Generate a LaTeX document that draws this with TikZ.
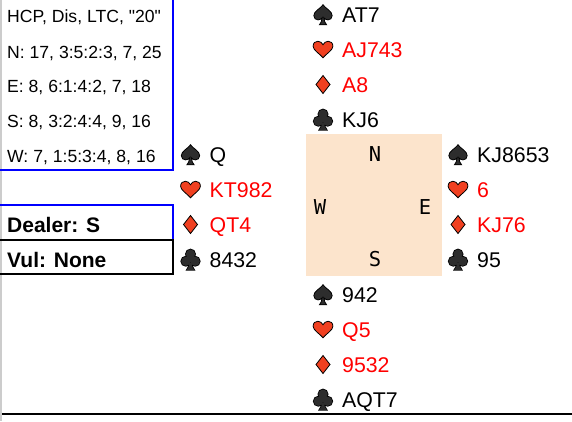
\documentclass[tikz,border=0pt]{standalone}
\usepackage{fontspec}
\setmainfont{Liberation Sans}[Ligatures=TeXOff]
\newfontfamily\compassfont{DejaVu Sans Mono}
\definecolor{suitred}{RGB}{240,64,32}
\definecolor{suitdark}{RGB}{45,45,45}
\definecolor{tablecol}{RGB}{252,228,204}
\definecolor{cardred}{RGB}{255,0,0}
\begin{document}
\begin{tikzpicture}[x=1pt, y=-1pt,
  cards/.style={inner sep=0, anchor=west, font=\fontsize{21.3}{24}\selectfont, text height=15.3pt, text depth=0pt},
  info/.style={inner sep=0, anchor=west, font=\fontsize{17.6}{20}\selectfont, text height=12.6pt, text depth=0pt},
  dealer/.style={inner sep=0, anchor=west, font=\fontsize{21}{24}\selectfont\bfseries, text height=15pt, text depth=0pt},
  compass/.style={inner sep=0, font=\fontsize{20.5}{23}\selectfont\compassfont, text height=14.9pt, text depth=0pt},
  spadesym/.pic={
    \filldraw[fill=suitdark, draw=black, line width=0.8, scale=1.08] (0,-9) .. controls (-2.5,-5.5) and (-8.5,-3) .. (-8.5,1) .. controls (-8.5,3.5) and (-6.8,5) .. (-4.6,5) .. controls (-2.8,5) and (-1.5,4) .. (-0.8,3) .. controls (-1,6) and (-2,8) .. (-3.3,9.5) -- (3.3,9.5) .. controls (2,8) and (1,6) .. (0.8,3) .. controls (1.5,4) and (2.8,5) .. (4.6,5) .. controls (6.8,5) and (8.5,3.5) .. (8.5,1) .. controls (8.5,-3) and (2.5,-5.5) .. (0,-9) -- cycle;
  },
  heartsym/.pic={
    \filldraw[fill=suitred, draw=black, line width=0.8, scale=1.1] (0,7.5) .. controls (-3.5,3.5) and (-9,0.5) .. (-9,-3) .. controls (-9,-6) and (-7,-7.5) .. (-4.7,-7.5) .. controls (-2.5,-7.5) and (-0.7,-6) .. (0,-4.3) .. controls (0.7,-6) and (2.5,-7.5) .. (4.7,-7.5) .. controls (7,-7.5) and (9,-6) .. (9,-3) .. controls (9,0.5) and (3.5,3.5) .. (0,7.5) -- cycle;
  },
  diamondsym/.pic={
    \filldraw[fill=suitred, draw=black, line width=0.8] (0,-9) -- (7,0) -- (0,9) -- (-7,0) -- cycle;
  },
  clubsym/.pic={
    \begin{scope}[scale=1.08]
    \draw[black, line width=1.6] (0,-5) circle (4.3) (-4.3,1.6) circle (4.3) (4.3,1.6) circle (4.3)
      (-0.8,2) .. controls (-1,6) and (-2,8) .. (-3.3,9.5) -- (3.3,9.5) .. controls (2,8) and (1,6) .. (0.8,2) -- cycle;
    \fill[suitdark] (0,-5) circle (4.3) (-4.3,1.6) circle (4.3) (4.3,1.6) circle (4.3) (0,0) circle (3)
      (-0.8,2) .. controls (-1,6) and (-2,8) .. (-3.3,9.5) -- (3.3,9.5) .. controls (2,8) and (1,6) .. (0.8,2) -- cycle;
    \end{scope}
  }]
\useasboundingbox (0,0) rectangle (572,421);
% Page edge
\draw[gray!40, line width=2] (1,0) -- (1,421);
% Info box
\draw[blue, line width=2] (0,170) -- (173,170) -- (173,0);
\node[info] (title) at (7,16.5) {HCP, Dis, LTC, "20"};
\node[info] (infon) at (7,51.8) {N: 17, 3:5:2:3, 7, 25};
\node[info] (infoe) at (7,86.5) {E: 8, 6:1:4:2, 7, 18};
\node[info] (infos) at (7,121.3) {S: 8, 3:2:4:4, 9, 16};
\node[info] (infow) at (7,156) {W: 7, 1:5:3:4, 8, 16};
% Dealer and vulnerability
\draw[blue, line width=2] (0,205) -- (173,205) -- (173,240);
\draw[black, line width=2] (0,240) -- (173,240) -- (173,274) -- (0,274);
\node[dealer] (dealer) at (7,225.3) {Dealer: S};
\node[dealer] (vul) at (7,259.5) {Vul: None};
% Table
\fill[tablecol] (306,134) rectangle (442,276);
\node[compass] (north) at (375,154) {N};
\node[compass] (west) at (320,207.5) {W};
\node[compass] (east) at (425,207.5) {E};
\node[compass] (south) at (375,259.5) {S};
% Hands
\foreach \p/\hx/\hy/\sp/\he/\di/\cl in {n/323/14.5/AT7/AJ743/A8/KJ6, w/190.5/154.5/Q/KT982/QT4/8432,
    e/458/154.5/KJ8653/6/KJ76/95, s/323/294.5/942/Q5/9532/AQT7} {
  \pic at (\hx,\hy) {spadesym};
  \pic at (\hx,{\hy+35}) {heartsym};
  \pic at (\hx,{\hy+70}) {diamondsym};
  \pic at (\hx,{\hy+105}) {clubsym};
  \node[cards] (\p-s) at ({\hx+19},\hy) {\sp};
  \node[cards, text=cardred] (\p-h) at ({\hx+19},{\hy+35}) {\he};
  \node[cards, text=cardred] (\p-d) at ({\hx+19},{\hy+70}) {\di};
  \node[cards] (\p-c) at ({\hx+19},{\hy+105}) {\cl};
}
% Bottom rule
\draw[black, line width=2] (2,414) -- (572,414);
\end{tikzpicture}
\end{document}
